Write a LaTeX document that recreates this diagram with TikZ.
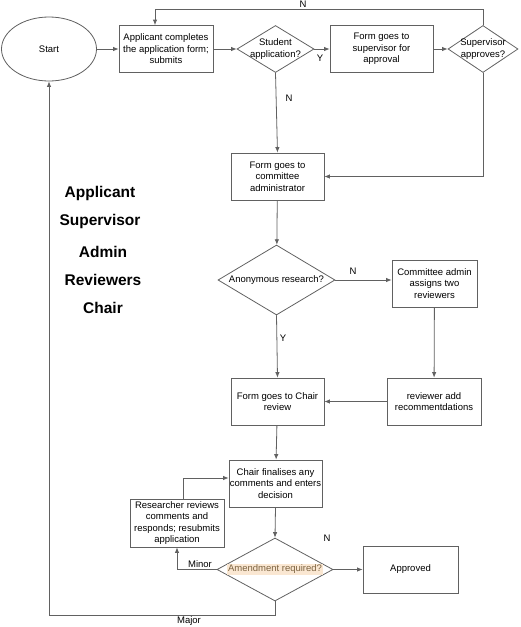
\documentclass[tikz,border=0pt]{standalone}
\usepackage{fontspec}
\setmainfont{Liberation Sans}
\usepackage{tikz}
\usetikzlibrary{arrows.meta}
\usetikzlibrary{shapes.geometric,positioning}
\colorlet{penColor}{black!62}
\definecolor{hlColor}{RGB}{250,231,210}
\definecolor{hlText}{RGB}{125,100,65}
\tikzset{>={Latex[length=5.5pt,width=4.5pt]},
  flow/.style={draw=penColor,line width=0.8pt,->},
  procbox/.style={draw=penColor,line width=0.8pt,rectangle,align=center,
    inner sep=0pt,minimum width=94pt,minimum height=47pt,
    font=\fontsize{9.5}{11.5}\selectfont},
  decision/.style={draw=penColor,line width=0.8pt,diamond,inner sep=0pt,
    label={[align=center,font=\fontsize{9.5}{11.5}\selectfont]center:#1}},
  lbl/.style={font=\fontsize{9.5}{11.5}\selectfont,inner sep=0pt},
  role/.style={font=\fontsize{15.5}{18}\selectfont\bfseries,inner sep=0pt}}

\begin{document}
\begin{tikzpicture}[x=1pt,y=-1pt,line cap=round]

  \useasboundingbox (0,0) rectangle (520,627);

  % top row
  \node [ellipse,draw=penColor,line width=0.8pt,minimum width=95pt,
    minimum height=64pt,font=\fontsize{9.5}{11.5}\selectfont] (start) at (49,49) {Start};
  \node [procbox] (apply) at (166,49) {Applicant completes\\the application form;\\submits};
  \node [decision={Student\\application?},minimum width=77pt,minimum height=47pt] (student) at (275.5,49) {};
  \node [procbox,minimum width=103pt] (supform) at (381.5,49) {Form goes to\\supervisor for\\approval};
  \node [decision={Supervisor\\approves?},minimum width=70pt,minimum height=47pt] (supok) at (483,49) {};

  % middle column
  \node [procbox,minimum width=93pt] (admin) at (277.5,176.5) {Form goes to\\committee\\administrator};
  \node [decision={Anonymous research?},minimum width=117pt,minimum height=70pt] (anon) at (276.5,280) {};
  \node [procbox,minimum width=85pt] (assign) at (434.5,283.5) {Committee admin\\assigns two\\reviewers};
  \node [procbox,minimum width=93pt] (chairrev) at (277.5,401.5) {Form goes to Chair\\review};
  \node [procbox] (recomm) at (434,401.5) {reviewer add\\recommentdations};
  \node [procbox,minimum width=93pt] (final) at (275.5,483.5) {Chair finalises any\\comments and enters\\decision};
  \node [procbox,minimum height=48pt] (resub) at (177,523) {Researcher reviews\\comments and\\responds; resubmits\\application};
  \node [decision={\setlength{\fboxsep}{1.2pt}\colorbox{hlColor}{\textcolor{hlText}{Amendment required?}}},
    minimum width=116pt,minimum height=63pt] (amend) at (275,569.5) {};
  \node [procbox,minimum width=95pt] (approved) at (410.5,569.5) {Approved};

  % roles
  \node [role] (rApplicant) at (100,193) {Applicant};
  \node [role] (rSupervisor) at (100,221) {Supervisor};
  \node [role] (rAdmin) at (103,252) {Admin};
  \node [role] (rReviewers) at (103,280) {Reviewers};
  \node [role] (rChair) at (103,308) {Chair};

  \coordinate (topN) at (483,9);
  \coordinate (majLow) at (49,615);

  \draw [flow] (start) -- (apply);
  \draw [flow] (apply) -- (student);
  \draw [flow] (student) -- (supform);
  \draw [flow] (supform) -- (supok);
  \draw [flow] (supok.north) -- (topN) -| ([xshift=-11pt]apply.north);
  \draw [flow] (student.south) -- (admin.north);
  \draw [flow] (supok.south) |- (admin.east);
  \draw [flow] (admin) -- (anon);
  \draw [flow] (anon.east) -- (anon.east -| assign.west);
  \draw [flow] (anon.south) -- (chairrev.north);
  \draw [flow] (assign) -- (recomm);
  \draw [flow] (recomm) -- (chairrev);
  \draw [flow] (chairrev) -- (final);
  \draw [flow] (final.south) -- (amend.north);
  \draw [flow] (amend) -- (approved);
  \draw [flow] (amend.west) -| (resub.south);
  \draw [flow] ([xshift=6pt]resub.north) |- ([yshift=5.5pt]final.west);
  \draw [flow] (amend.south) |- (majLow) -- (start.south);

  \node [lbl] (nTop) at (303,4) {N};
  \node [lbl] (yStudent) at (320,58) {Y};
  \node [lbl] (nStudent) at (289,98) {N};
  \node [lbl] (nAnon) at (353,271) {N};
  \node [lbl] (yAnon) at (283,338) {Y};
  \node [lbl] (nAmend) at (327,538) {N};
  \node [lbl] (minor) at (200,564) {Minor};
  \node [lbl] (major) at (189,621) {Major};

\end{tikzpicture}
\end{document}
